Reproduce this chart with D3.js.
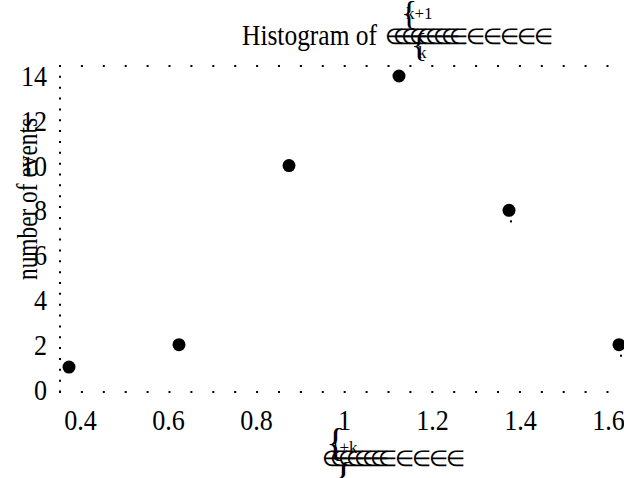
<!DOCTYPE html>
<html>
<head>
<meta charset="utf-8">
<script src="https://cdn.jsdelivr.net/npm/d3@7"></script>
<style>
  body { margin: 0; background: #fff; }
  svg { display: block; }
  text { font-family: "Liberation Serif", "Times New Roman", serif; fill: #000; }
</style>
</head>
<body>
<svg width="624" height="478"></svg>
<script>
var width = 624, height = 478;

// histogram bins (centres) and counts
var binCenters = [0.375, 0.625, 0.875, 1.125, 1.375, 1.625];
var counts = [1, 2, 10, 14, 8, 2];
// tiny stray marks drawn just under some of the points
var strayMark = [false, false, false, false, true, true];

var xTicks = [0.4, 0.6, 0.8, 1, 1.2, 1.4, 1.6];
var yTicks = [0, 2, 4, 6, 8, 10, 12, 14];

var svg = d3.select("svg");

var x = d3.scaleLinear().domain([0.4, 1.6]).range([80, 608]);
var y = d3.scaleLinear().domain([0, 14]).range([389.5, 76]);

// plot box (note: "top" is reserved on window, so use other names)
var padL = 60, padT = 66, padB = 392, padR = 610;

// the reference font is a narrow Times, squeeze text horizontally
function squeeze(sel, f) {
    sel.each(function () {
        var w = this.getComputedTextLength();
        d3.select(this).attr("textLength", w * f).attr("lengthAdjust", "spacingAndGlyphs");
    });
}

// dotted frame (top, left, bottom)
var frame = svg.append("g").attr("stroke", "#000").attr("stroke-width", 2).attr("fill", "none");
frame.append("line").attr("x1", padL - 1).attr("x2", padR).attr("y1", padT).attr("y2", padT)
    .attr("stroke-dasharray", "2,19.9");
frame.append("line").attr("x1", padL).attr("x2", padL).attr("y1", padT - 1).attr("y2", padB)
    .attr("stroke-dasharray", "2,8.85");
frame.append("line").attr("x1", padL - 1).attr("x2", padR).attr("y1", padB).attr("y2", padB)
    .attr("stroke-dasharray", "2,19.9");

// axes (labels only)
svg.append("g")
    .attr("transform", "translate(0," + padB + ")")
    .call(d3.axisBottom(x).tickValues(xTicks).tickSize(0).tickPadding(17).tickFormat(d3.format("")));
svg.append("g")
    .attr("transform", "translate(" + padL + ",0)")
    .call(d3.axisLeft(y).tickValues(yTicks).tickSize(0).tickPadding(13).tickFormat(d3.format("d")));
svg.selectAll(".domain").remove();
svg.selectAll(".tick text")
    .attr("font-family", "Liberation Serif")
    .attr("font-size", 30)
    .attr("fill", "#000")
    .call(squeeze, 0.87);

// points
svg.append("g").selectAll("circle")
    .data(binCenters)
    .join("circle")
    .attr("cx", function (d) { return x(d); })
    .attr("cy", function (d, i) { return y(counts[i]); })
    .attr("r", 6.5)
    .attr("fill", "#000");

svg.append("g").selectAll("rect")
    .data(binCenters.filter(function (d, i) { return strayMark[i]; }))
    .join("rect")
    .attr("x", function (d) { return x(d) + 1; })
    .attr("y", function (d) {
        return y(counts[binCenters.indexOf(d)]) + 10;
    })
    .attr("width", 2)
    .attr("height", 2)
    .attr("fill", "#000");

// y label
svg.append("text")
    .attr("transform", "translate(37,199) rotate(-90)")
    .attr("text-anchor", "middle")
    .attr("font-size", 30)
    .attr("textLength", 162)
    .attr("lengthAdjust", "spacingAndGlyphs")
    .text("number of events");

// garbled math in the title and x label
function mathJunk(g, x0, base, cluster, spread) {
    for (var i = 0; i < cluster; i++) {
        g.append("text").attr("x", x0 + i * 8).attr("y", base).attr("font-size", 22).text("\u2208");
    }
    var start = x0 + (cluster - 1) * 8 + 17;
    for (var j = 0; j < spread; j++) {
        g.append("text").attr("x", start + j * 17).attr("y", base).attr("font-size", 22).text("\u2208");
    }
}

var title = svg.append("g");
title.append("text")
    .attr("x", 242).attr("y", 45)
    .attr("font-size", 30)
    .attr("textLength", 135)
    .attr("lengthAdjust", "spacingAndGlyphs")
    .text("Histogram of");
mathJunk(title, 385, 44, 9, 5);
title.append("text").attr("x", 401).attr("y", 24).attr("font-size", 34).text("{");
title.append("text").attr("x", 406).attr("y", 19).attr("font-size", 17).text("k+1");
title.append("text").attr("x", 411).attr("y", 56).attr("font-size", 34).text("{");
title.append("text").attr("x", 418).attr("y", 58).attr("font-size", 17).text("k");

var xlab = svg.append("g");
xlab.append("text").attr("x", 326).attr("y", 456).attr("font-size", 40).text("{");
xlab.append("text").attr("x", 331).attr("y", 453).attr("font-size", 17).text("1+k");
mathJunk(xlab, 322, 466, 8, 4);
xlab.append("text").attr("x", 334).attr("y", 490).attr("font-size", 40).text("{");
</script>
</body>
</html>
